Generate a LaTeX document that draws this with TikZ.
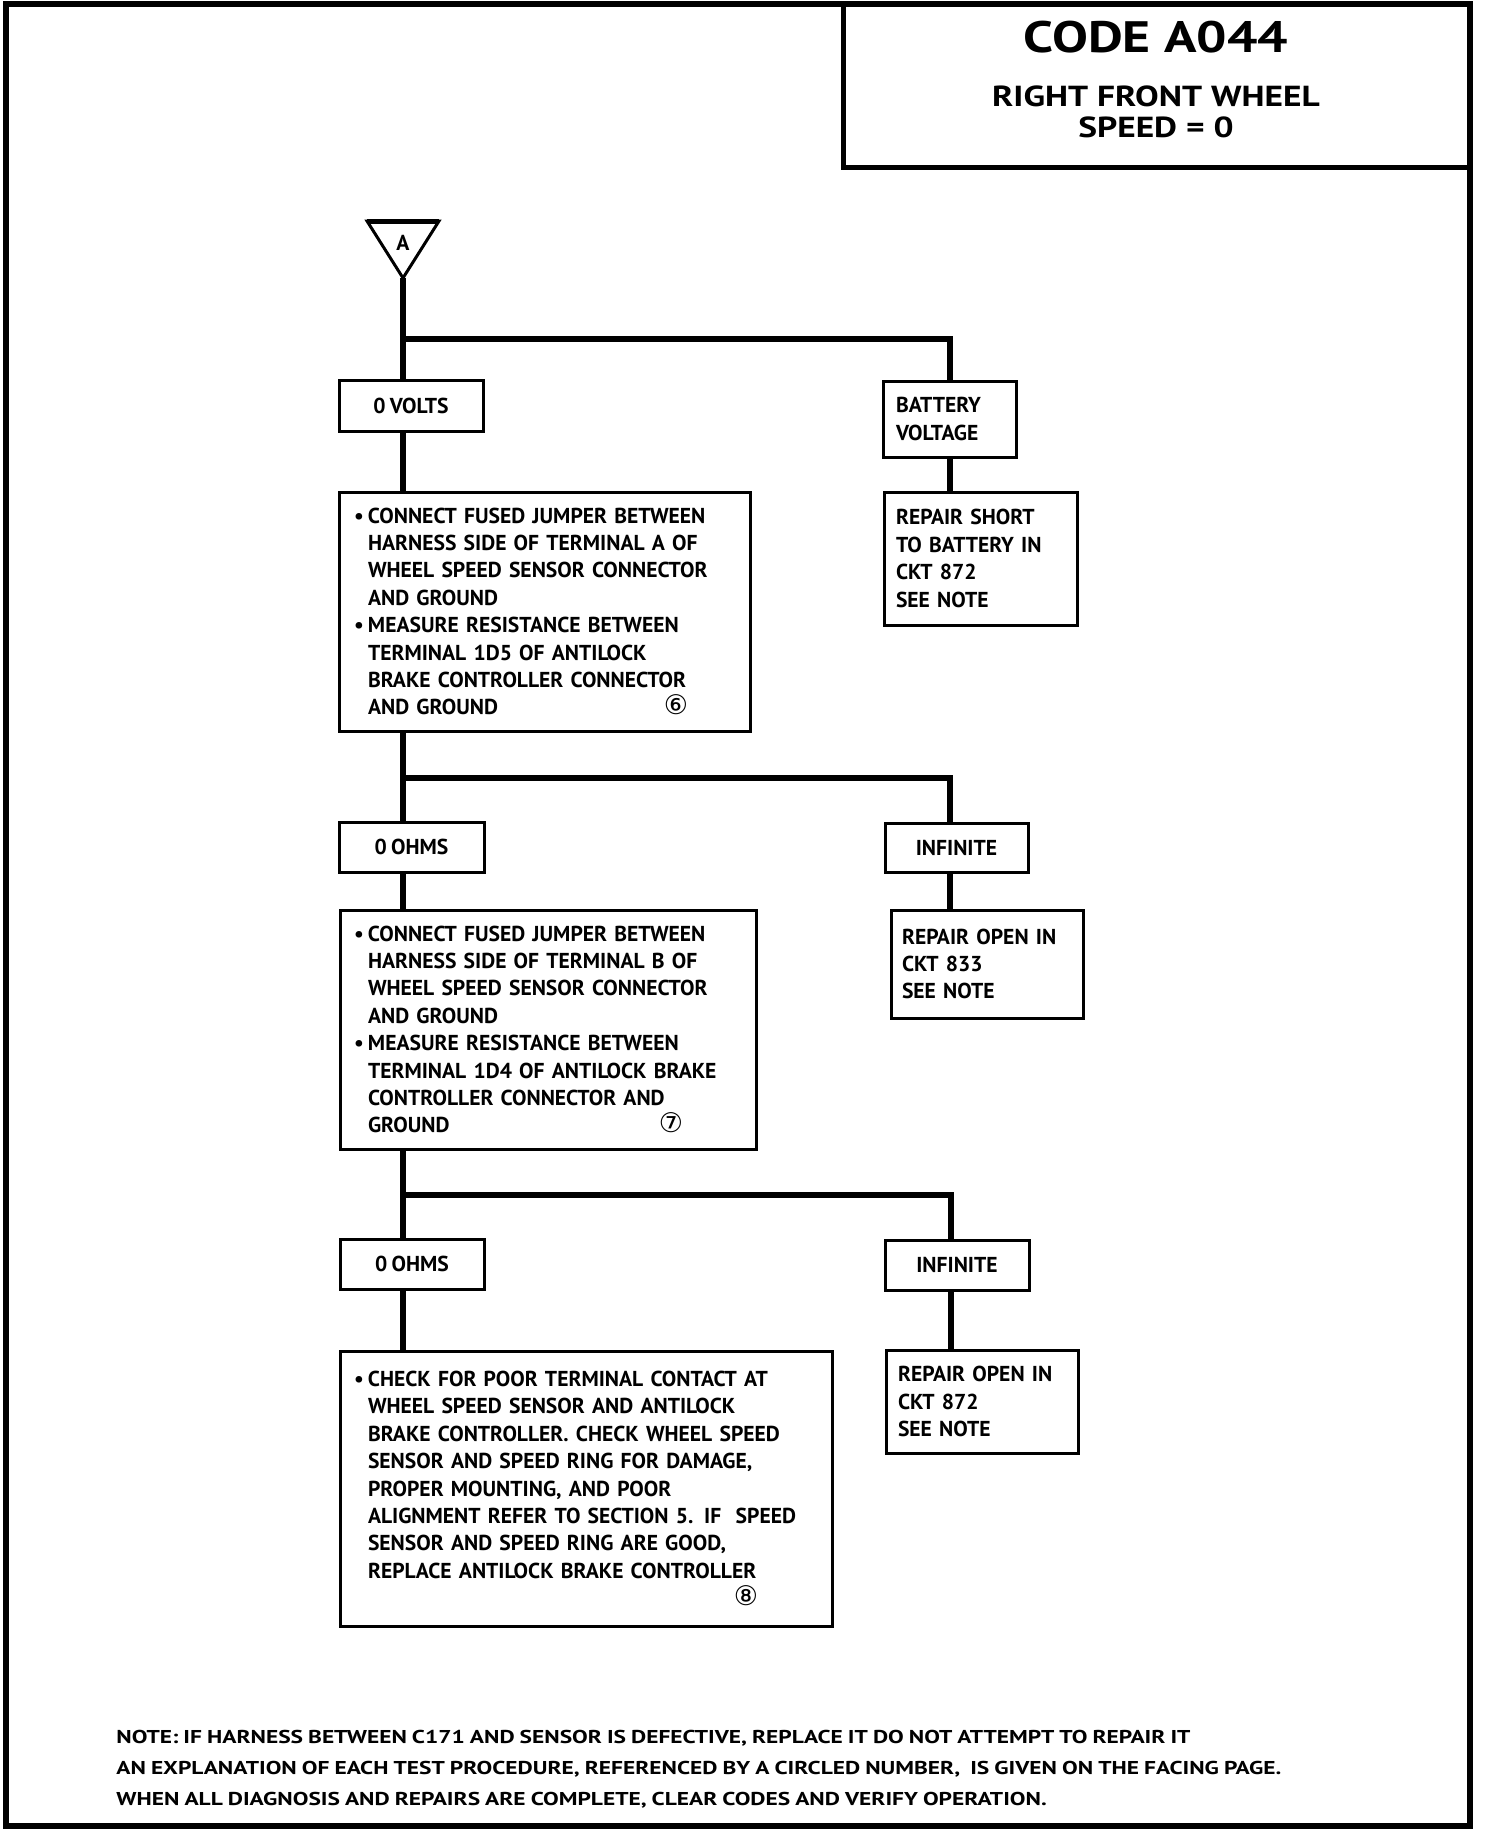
\documentclass[tikz,border=0pt]{standalone}
\usepackage{fontspec}
\setmainfont{PT Sans}[WordSpace=0.8]
\newfontfamily\widefont[FakeStretch=1.22]{PT Sans}
\newfontfamily\notefam[FakeStretch=1.26, WordSpace=0.85]{PT Sans}
\newfontfamily\circfont{DejaVu Sans}
\usetikzlibrary{calc}

\newcommand{\boxfont}{\bfseries\fontsize{10.8}{13.7}\selectfont}
\newcommand{\notefont}{\notefam\bfseries\fontsize{9.3}{15.4}\selectfont}
\newcommand{\codefont}{\widefont\bfseries\fontsize{22}{24}\selectfont}
\newcommand{\headfont}{\widefont\bfseries\fontsize{14.5}{15.3}\selectfont}
\newcommand{\cnum}[1]{{\circfont\mdseries\fontsize{13.5}{10}\selectfont #1}}
\newcommand{\bul}{\leavevmode\llap{\textbullet\kern2pt}}

\begin{document}
\begin{tikzpicture}[x=0.5pt, y=-0.5pt,
    wire/.style={line width=3pt},
    result/.style={draw, line width=1.5pt, inner sep=0pt, align=center, font=\boxfont},
    textbox/.style={draw, line width=1.5pt, inner xsep=2pt, inner ysep=0pt, align=left, font=\boxfont,
        execute at begin node={\leftskip=#1}}]
    \useasboundingbox (0,0) rectangle (1504,1832);
    \draw[line width=3pt] (6,4) rectangle (1470,1826);
    \draw[line width=2.5pt] (843,4) -- (843,167) -- (1470,167);
    \node[font=\codefont] (code) at (1156,37) {CODE A044};
    \node[font=\headfont, align=center] (wheel) at (1156,112) {RIGHT FRONT WHEEL\\SPEED = 0};

    \draw[line width=1.5pt] (367,221) -- (439,221) -- (403,278) -- cycle;
    \draw[line width=2.5pt] (367,221) -- (439,221);
    \node[font=\boxfont] (start) at (403,243) {A};
    \coordinate (apex) at (403,278);

    \node[result, minimum width=72pt, minimum height=25.5pt] (volts0) at (411,405.5) {0 VOLTS};
    \node[textbox=4.5pt, minimum height=38pt, text width=62.5pt] (batt) at (949.5,419) {BATTERY\\VOLTAGE};
    \node[textbox=12.5pt, minimum height=119.5pt, text width=201.5pt] (check1) at (544.5,611.5)
        {\bul CONNECT FUSED JUMPER BETWEEN\\
        HARNESS SIDE OF TERMINAL A OF\\
        WHEEL SPEED SENSOR CONNECTOR\\
        AND GROUND\\
        \bul MEASURE RESISTANCE BETWEEN\\
        TERMINAL 1D5 OF ANTILOCK\\
        BRAKE CONTROLLER CONNECTOR\\
        AND GROUND\hfill\cnum{⑥}\kern29pt};
    \node[textbox=4pt, minimum height=66.5pt, text width=92.5pt] (short) at (980.5,558.5)
        {REPAIR SHORT\\TO BATTERY IN\\CKT 872\\SEE NOTE};

    \node[result, minimum width=72.5pt, minimum height=25pt] (ohms1) at (411.5,847) {0 OHMS};
    \node[result, minimum width=71.5pt, minimum height=24.5pt] (inf1) at (956.5,847.5) {INFINITE};
    \node[textbox=12pt, minimum height=119.5pt, text width=204pt] (check2) at (548,1029.5)
        {\bul CONNECT FUSED JUMPER BETWEEN\\
        HARNESS SIDE OF TERMINAL B OF\\
        WHEEL SPEED SENSOR CONNECTOR\\
        AND GROUND\\
        \bul MEASURE RESISTANCE BETWEEN\\
        TERMINAL 1D4 OF ANTILOCK BRAKE\\
        CONTROLLER CONNECTOR AND\\
        GROUND\hfill\cnum{⑦}\kern34.5pt};
    \node[textbox=3.5pt, minimum height=54pt, text width=92pt] (open1) at (987,964)
        {REPAIR OPEN IN\\CKT 833\\SEE NOTE};

    \node[result, minimum width=72pt, minimum height=25pt] (ohms2) at (412,1264) {0 OHMS};
    \node[result, minimum width=72pt, minimum height=25pt] (inf2) at (957,1265) {INFINITE};
    \node[textbox=12pt, minimum height=137.5pt, text width=242pt] (check3) at (586,1488.5)
        {\bul CHECK FOR POOR TERMINAL CONTACT AT\\
        WHEEL SPEED SENSOR AND ANTILOCK\\
        BRAKE CONTROLLER. CHECK WHEEL SPEED\\
        SENSOR AND SPEED RING FOR DAMAGE,\\
        PROPER MOUNTING, AND POOR\\
        ALIGNMENT REFER TO SECTION 5. IF\ \ SPEED\\
        SENSOR AND SPEED RING ARE GOOD,\\
        REPLACE ANTILOCK BRAKE CONTROLLER\\
        \mbox{}\hfill\cnum{⑧}\kern35pt};
    \node[textbox=4pt, minimum height=51.5pt, text width=92pt] (open2) at (982,1401.5)
        {REPAIR OPEN IN\\CKT 872\\SEE NOTE};

    \coordinate (br1) at (403,339);
    \coordinate (br1r) at (950,339);
    \coordinate (br2) at (403,778);
    \coordinate (br2r) at (950,778);
    \coordinate (br3) at (403,1195);
    \coordinate (br3r) at (951,1195);

    \draw[wire] (apex) -- (apex |- volts0.north);
    \draw[wire] (br1) -- (br1r) -- (br1r |- batt.north);
    \draw[wire] (apex |- volts0.south) -- (apex |- check1.north);
    \draw[wire] (br1r |- batt.south) -- (br1r |- short.north);
    \draw[wire] (apex |- check1.south) -- (apex |- ohms1.north);
    \draw[wire] (br2) -- (br2r) -- (br2r |- inf1.north);
    \draw[wire] (apex |- ohms1.south) -- (apex |- check2.north);
    \draw[wire] (br2r |- inf1.south) -- (br2r |- open1.north);
    \draw[wire] (apex |- check2.south) -- (apex |- ohms2.north);
    \draw[wire] (br3) -- (br3r) -- (br3r |- inf2.north);
    \draw[wire] (apex |- ohms2.south) -- (apex |- check3.north);
    \draw[wire] (br3r |- inf2.south) -- (br3r |- open2.north);

    \node[font=\notefont, align=left, anchor=west, inner sep=0pt] (notes) at (116,1769)
        {NOTE: IF HARNESS BETWEEN C171 AND SENSOR IS DEFECTIVE, REPLACE IT DO NOT ATTEMPT TO REPAIR IT\\
        AN EXPLANATION OF EACH TEST PROCEDURE, REFERENCED BY A CIRCLED NUMBER,\ \ IS GIVEN ON THE FACING PAGE.\\
        WHEN ALL DIAGNOSIS AND REPAIRS ARE COMPLETE, CLEAR CODES AND VERIFY OPERATION.};
\end{tikzpicture}
\end{document}
